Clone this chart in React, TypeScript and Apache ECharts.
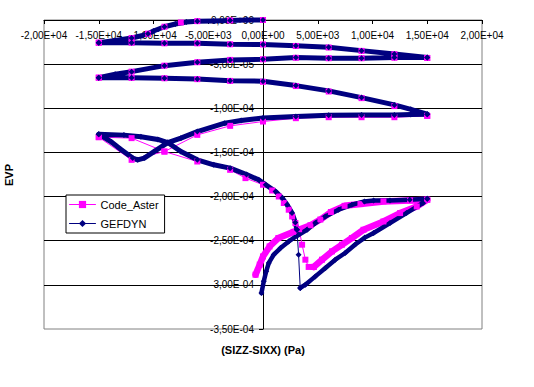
import React, { useEffect, useRef } from 'react';
import * as echarts from 'echarts';

// X: (SIZZ-SIXX) in Pa ; Y: EVP in units of 1e-6
const xTicks = [-20000, -15000, -10000, -5000, 0, 5000, 10000, 15000, 20000];
const yTicks = [-350, -300, -250, -200, -150, -100, -50, 0];

// ---- Code_Aster ----
const asterLoad1 = [[0, 0], [-3000, -0.5], [-6000, -1.3], [-7500, -2.8], [-9000, -7.6], [-10500, -15.5], [-12000, -20.4], [-15000, -25.7]];
const asterLoad2 = [[-15000, -25.7], [-12000, -25.7], [-9000, -26.4], [-6000, -26.4], [-3000, -27.5], [0, -27.7], [3000, -29.4], [6000, -31.2], [9000, -35.0], [12000, -38.8], [15000, -43.0]];
const asterLoad3 = [[15000, -43.0], [12000, -42.8], [9000, -43.3], [6000, -43.3], [3000, -42.8], [0, -44.5], [-3000, -45.2], [-6000, -47.8], [-9000, -51.7], [-12000, -58.5], [-15000, -65.3]];
const asterLoad4 = [[-15000, -65.3], [-12000, -65.6], [-9000, -66.0], [-6000, -67.0], [-3000, -69.0], [0, -70.0], [3000, -74.8], [6000, -81.0], [9000, -88.5], [12000, -97.5], [15000, -108.6]];
const asterLoad5 = [[15000, -108.6], [12000, -110.1], [9000, -110.1], [6000, -110.1], [3000, -111.2], [0, -115.0], [-3000, -119.9], [-6000, -130.1], [-9000, -149.0], [-12000, -158.4], [-15000, -132.7]];
const asterLoad6 = [[-15000, -132.7], [-12000, -133.8], [-9000, -149.0], [-6000, -160.3], [-3000, -169.7], [-1600, -179.1], [0, -186.6], [840, -193.1], [1440, -199.9], [1900, -207.3], [2350, -214.9], [2660, -222.5], [2960, -230.0], [3300, -237.0], [3570, -254.5], [3870, -271.5], [4170, -279.7], [4630, -279.7]];
const asterLoad7 = [[4630, -279.7], [5390, -271.5], [6300, -262.1], [7210, -254.5], [8120, -246.9], [9180, -237.6], [11000, -228.2], [12520, -218.7], [14040, -211.2], [15000, -203.6]];
const asterLoad8 = [[15000, -203.6], [13430, -204.4], [11000, -205.5], [8900, -208.5], [7450, -210.5], [6200, -217.5], [5240, -226.0], [4330, -232.5], [2800, -240.0], [1400, -247.0], [600, -256.5], [0, -267.8], [-300, -277.1], [-680, -288.5]];

// ---- GEFDYN ----
const gefLoad1 = [[0, 0], [-1500, 0], [-3000, -0.6], [-4500, -1.1], [-6000, -1.5], [-7000, -2.3], [-8000, -4.5], [-9000, -7.6], [-10000, -12.5], [-10500, -15.5], [-11000, -17.5], [-12000, -20.4], [-13500, -23.2], [-15000, -25.7]];
const gefLoad2 = [[-15000, -25.7], [-12000, -25.7], [-9000, -26.4], [-6000, -26.4], [-3000, -27.5], [0, -27.7], [3000, -29.1], [6000, -30.9], [9000, -34.7], [12000, -38.5], [15000, -42.6]];
const gefLoad3 = [[15000, -42.6], [12000, -42.6], [9000, -43.3], [6000, -43.3], [3000, -42.6], [0, -44.5], [-3000, -45.2], [-6000, -47.8], [-9000, -51.7], [-12000, -58.5], [-13500, -61.5], [-15000, -65.3]];
const gefLoad4 = [[-15000, -65.3], [-12000, -65.3], [-9000, -65.9], [-6000, -66.7], [-3000, -68.7], [0, -69.3], [3000, -74.3], [6000, -80.3], [9000, -87.9], [12000, -96.2], [13500, -101.2], [15000, -106.7]];
const gefLoad5 = [[15000, -106.7], [13500, -107.1], [12000, -107.5], [9000, -107.5], [6000, -107.8], [3000, -109.4], [0, -111.0], [-2000, -113.9], [-3500, -116.9], [-6000, -126.4], [-7500, -133.8], [-8700, -138.8], [-9950, -149.0], [-10850, -156.4], [-11450, -158.4], [-11900, -156.4], [-13000, -146.3], [-13900, -137.7], [-15000, -129.3]];
const gefLoad6 = [[-15000, -129.3], [-12700, -130.4], [-11150, -132.3], [-9600, -135.3], [-8700, -138.8], [-7500, -149.0], [-6000, -158.4], [-4500, -164.0], [-3000, -167.8], [-1500, -175.0], [-400, -181.0], [250, -186.6], [1150, -194.2], [1750, -201.7], [2200, -209.3], [2650, -218.7], [2950, -229.3], [3100, -237.6]];
const gefDrop = [[3100, -237.6], [3250, -265.8], [3400, -303.5]];
const gefLoad7 = [[3400, -303.5], [3870, -299.8], [4780, -290.4], [5700, -280.9], [6600, -271.5], [7500, -263.9], [8450, -254.0], [9300, -246.5], [10100, -241.3], [11600, -230.0], [13100, -218.7], [14600, -207.3], [15000, -202.5]];
const gefLoad8 = [[15000, -202.5], [13400, -203.6], [11600, -204.4], [10100, -204.4], [9270, -205.5], [8120, -209.3], [6900, -214.9], [5700, -222.5], [4780, -230.0], [4025, -237.6], [3260, -243.2], [2350, -250.8], [1600, -258.3], [980, -265.8], [530, -275.2], [290, -284.7], [70, -296.0], [-140, -309.2]];

const Y_UNIT = 1e-6;
const FONT = "'Liberation Sans', Arial, Helvetica, sans-serif";
const MAGENTA = '#FF00FF';
const NAVY = '#000080';

function sci(v: number): string {
  if (Math.abs(v) < 1e-15) return '0,00E+00';
  const [m, e] = v.toExponential(2).split('e');
  const n = parseInt(e, 10);
  return m.replace('.', ',') + 'E' + (n < 0 ? '-' : '+') + String(Math.abs(n)).padStart(2, '0');
}

const GRID = { left: 44, top: 20, width: 438, height: 309 };

export default function App() {
  const ref = useRef<HTMLDivElement>(null);
  useEffect(() => {
    if (!ref.current) return;
    const chart = echarts.init(ref.current, null, { renderer: 'svg' });
    const asterThin = [...asterLoad1, ...asterLoad2, ...asterLoad3, ...asterLoad4, ...asterLoad5, ...asterLoad6];
    const asterBand = [...asterLoad7, ...asterLoad8];
    const gefBandA = [...gefLoad1, ...gefLoad2, ...gefLoad3, ...gefLoad4, ...gefLoad5, ...gefLoad6];
    const gefBandC = [...gefLoad7, ...gefLoad8];

    const mk = (name: string, data: number[][], color: string, symbol: string, size: number, width: number) => ({
      name,
      type: 'line',
      data,
      color,
      symbol,
      symbolSize: size,
      showSymbol: true,
      clip: false,
      silent: true,
      itemStyle: { color, borderWidth: 0 },
      lineStyle: { color, width, join: 'round', cap: 'round' },
      emphasis: { disabled: true },
    });

    chart.setOption({
      animation: false,
      backgroundColor: '#ffffff',
      textStyle: { fontFamily: FONT },
      grid: { ...GRID, show: true, borderColor: '#808080', borderWidth: 1, backgroundColor: 'transparent', containLabel: false },
      xAxis: {
        type: 'value',
        min: xTicks[0],
        max: xTicks[xTicks.length - 1],
        interval: xTicks[1] - xTicks[0],
        position: 'top',
        axisLine: { show: true, onZero: false, lineStyle: { color: '#000000', width: 1 } },
        axisTick: { show: true, inside: true, length: 4, lineStyle: { color: '#000000', width: 1 } },
        axisLabel: { inside: true, margin: 10, fontSize: 10, color: '#000000', fontFamily: FONT, formatter: (v: number) => sci(v) },
        splitLine: { show: false },
      },
      yAxis: {
        type: 'value',
        min: yTicks[0],
        max: yTicks[yTicks.length - 1],
        interval: yTicks[1] - yTicks[0],
        position: 'left',
        offset: -GRID.width / 2,
        axisLine: { show: true, onZero: false, lineStyle: { color: '#000000', width: 1 } },
        axisTick: { show: true, length: 4, lineStyle: { color: '#000000', width: 1 } },
        axisLabel: { margin: 9, fontSize: 10, color: '#000000', fontFamily: FONT, formatter: (v: number) => sci(v * Y_UNIT) },
        splitLine: { show: true, showMinLine: false, lineStyle: { color: '#000000', width: 1 } },
      },
      legend: {
        data: ['Code_Aster', 'GEFDYN'],
        orient: 'vertical',
        left: 66,
        top: 195,
        backgroundColor: '#ffffff',
        borderColor: '#000000',
        borderWidth: 1,
        borderRadius: 0,
        padding: [4, 6, 4, 3],
        itemWidth: 26,
        itemHeight: 9,
        itemGap: 8,
        selectedMode: false,
        lineStyle: { width: 1 },
        textStyle: { fontSize: 11, color: '#000000', fontFamily: FONT },
      },
      graphic: [
        {
          type: 'text',
          x: 263,
          y: 349.5,
          silent: true,
          style: { text: '(SIZZ-SIXX) (Pa)', font: `bold 11px ${FONT}`, fill: '#000000', textAlign: 'center', align: 'center', textVerticalAlign: 'middle', verticalAlign: 'middle' },
        },
        {
          type: 'text',
          x: 8.5,
          y: 175,
          rotation: Math.PI / 2,
          silent: true,
          style: { text: 'EVP', font: `bold 11px ${FONT}`, fill: '#000000', textAlign: 'center', align: 'center', textVerticalAlign: 'middle', verticalAlign: 'middle' },
        },
      ],
      series: [
        mk('Code_Aster', asterThin, MAGENTA, 'rect', 6, 1),
        mk('Code_Aster', asterBand, MAGENTA, 'rect', 6, 6.5),
        mk('GEFDYN', gefBandA, NAVY, 'diamond', 6, 5),
        mk('GEFDYN', gefDrop, NAVY, 'diamond', 6, 1),
        mk('GEFDYN', gefBandC, NAVY, 'diamond', 6, 4.5),
      ],
    });
    return () => chart.dispose();
  }, []);
  return <div ref={ref} style={{ position: 'absolute', left: 0, top: 0, width: 534, height: 387, background: '#ffffff' }} />;
}
